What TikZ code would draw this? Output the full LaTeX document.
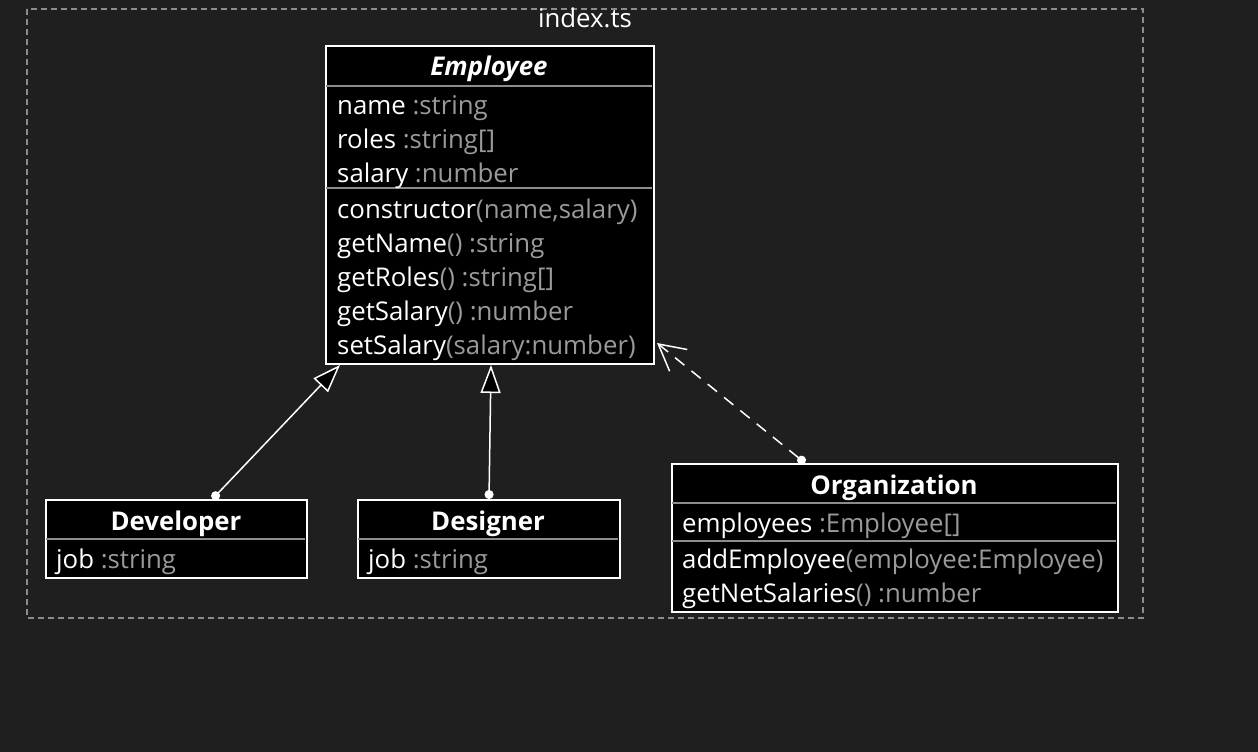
\documentclass[tikz,border=0pt]{standalone}
\usepackage{fontspec}
\setmainfont{Open Sans}
\usetikzlibrary{arrows.meta,positioning}
\definecolor{bgdark}{HTML}{1F1F1F}
\definecolor{typegray}{HTML}{9A9A9A}
\definecolor{rulegray}{HTML}{8C8C8C}
\newcommand{\ty}[1]{\textcolor{typegray}{#1}}
\tikzset{
  classbox/.style={draw=white, line width=2pt, fill=black, anchor=north west, inner sep=0pt},
  member/.style={anchor=base west, inner sep=0pt, text=white, font=\fontsize{25.8}{28}\selectfont},
  classname/.style={anchor=base, inner sep=0pt, text=white, font=\fontsize{25.8}{28}\selectfont\bfseries},
  sep/.style={draw=rulegray, line width=1.5pt},
  inherit/.style={draw=white, line width=1.5pt, {Circle[length=9pt]}-{Triangle[length=28pt,width=20pt,fill=black]}},
  depends/.style={draw=white, line width=1.5pt, dash pattern=on 12pt off 9pt, {Circle[length=9pt]}-{Straight Barb[length=26pt,width=28pt]}}
}
\begin{document}
\begin{tikzpicture}[x=1pt,y=-1pt]
  \useasboundingbox[fill=bgdark] (0,0) rectangle (1258,752);
  %% Module frame
  \draw[rulegray, line width=1.2pt, dash pattern=on 6pt off 4pt] (27,9) rectangle (1143,618);
  \node[anchor=base, inner sep=0pt, text=white, font=\fontsize{25.8}{28}\selectfont] (module) at (585,28) {index.ts};
  %% Employee
  \node[classbox, minimum width=328pt, minimum height=318pt] (employee) at (325,45) {};
  \draw[sep] (326,86) -- (652,86) (326,188) -- (652,188);
  \node[classname] (empname) at (489,76) {\textit{Employee}};
  \node[member] (emp1) at (337,114) {name \ty{:string}};
  \node[member] (emp2) at (337,148) {roles \ty{:string[]}};
  \node[member] (emp3) at (337,182) {salary \ty{:number}};
  \node[member] (emp4) at (337,218) {constructor\ty{(name,salary)}};
  \node[member] (emp5) at (337,252) {getName\ty{() :string}};
  \node[member] (emp6) at (337,286) {getRoles\ty{() :string[]}};
  \node[member] (emp7) at (337,320) {getSalary\ty{() :number}};
  \node[member] (emp8) at (337,354) {setSalary\ty{(salary:number)}};
  %% Developer
  \node[classbox, minimum width=261pt, minimum height=78pt] (developer) at (45,499) {};
  \draw[sep] (46,539) -- (305,539);
  \node[classname] (devname) at (176,530) {Developer};
  \node[member] (dev1) at (56,568) {job \ty{:string}};
  %% Designer
  \node[classbox, minimum width=262pt, minimum height=78pt] (designer) at (357,499) {};
  \draw[sep] (358,539) -- (618,539);
  \node[classname] (desname) at (488,530) {Designer};
  \node[member] (des1) at (368,568) {job \ty{:string}};
  %% Organization
  \node[classbox, minimum width=446pt, minimum height=148pt] (organization) at (671,463) {};
  \draw[sep] (672,503) -- (1116,503) (672,541) -- (1116,541);
  \node[classname] (orgname) at (894,494) {Organization};
  \node[member] (org1) at (682,532) {employees \ty{:Employee[]}};
  \node[member] (org2) at (682,568) {addEmployee\ty{(employee:Employee)}};
  \node[member] (org3) at (682,602) {getNetSalaries\ty{() :number}};
  %% Relations
  \draw[inherit] ([xshift=36pt]developer.north) -- ([xshift=15pt]employee.south west);
  \draw[inherit] (designer.north) -- ([xshift=1pt]employee.south);
  \draw[depends] ([xshift=-90pt]organization.north) -- ([xshift=2pt,yshift=22pt]employee.south east);
\end{tikzpicture}
\end{document}
